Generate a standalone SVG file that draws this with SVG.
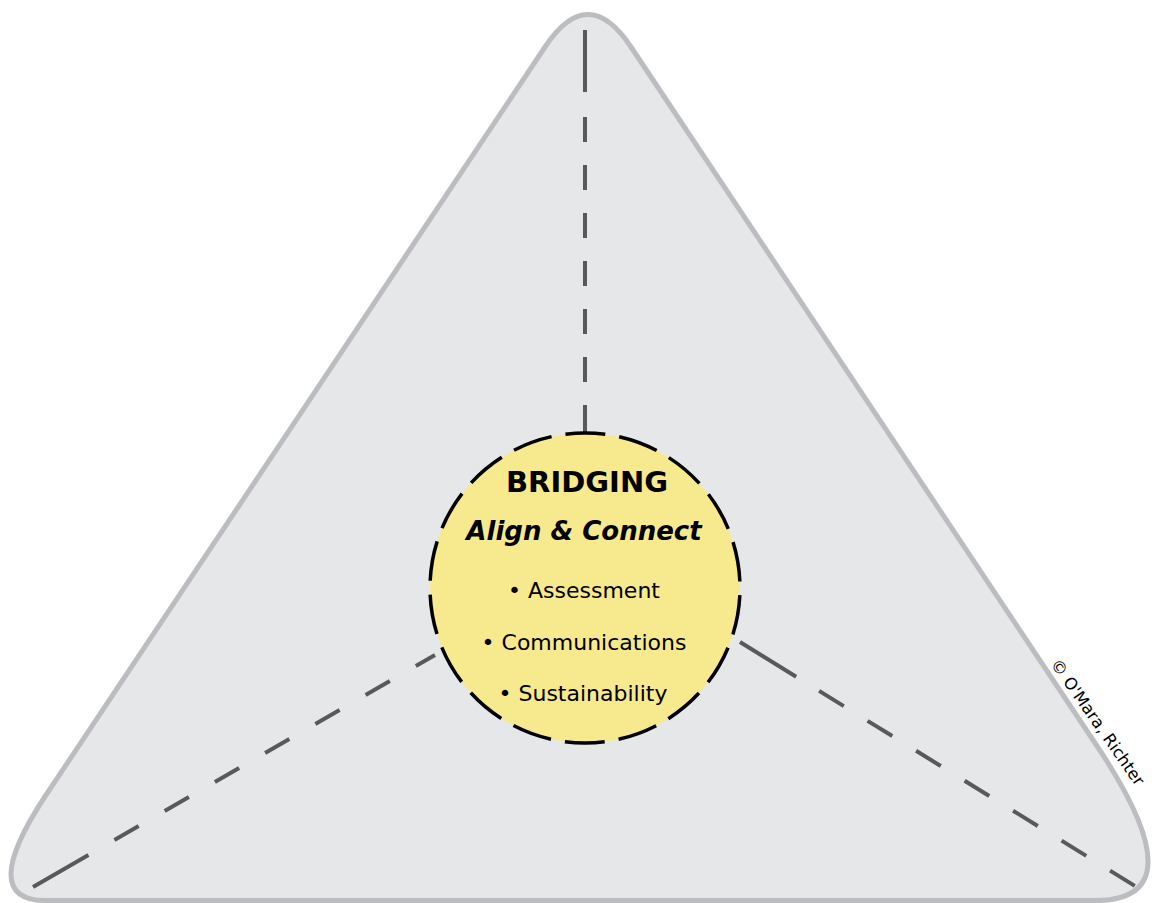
<svg xmlns="http://www.w3.org/2000/svg" width="1152" height="903" viewBox="0 0 1152 903">
<style>
.tri{fill:#e6e7e9;stroke:#bcbdc0;stroke-width:5}
.conn{fill:none;stroke:#58595b;stroke-width:4}
.hub{fill:#f7e98e;stroke:#000;stroke-width:3.5}
.t{font-family:"DejaVu Sans",Verdana,sans-serif;fill:#000;text-anchor:middle}
.title{font-weight:bold;font-size:29px}
.sub{font-weight:bold;font-style:italic;font-size:26px}
.item{font-size:22px}
.copy{font-family:"DejaVu Sans",Verdana,sans-serif;font-size:16.5px;fill:#000}
</style>
<rect width="1152" height="903" fill="#ffffff"/>
<g id="triangle">
<path class="tri" d="M545 47 Q588 -18 631 47 L1099 749 Q1199 900.5 1095 900.5 L46 900.5 Q-24 900.5 46 795 Z"/>
</g>
<g id="connectors">
<line class="conn" x1="585" y1="30" x2="585" y2="432" stroke-dasharray="62 25 25 23 25 23 25 23 25 23 25 23 25 23 27 100"/>
<line class="conn" x1="33" y1="887" x2="435" y2="655" stroke-dasharray="64 30 28 30 28 30 28 30 28 30 28 30 28 30 28 30"/>
<line class="conn" x1="740" y1="642" x2="1135" y2="886" stroke-dasharray="66 27 29 28 29 28 29 28 29 28 29 28 29 28 29 28"/>
</g>
<g id="bridging">
<circle class="hub" cx="585" cy="588" r="155" stroke-dasharray="40 14.1" stroke-dashoffset="-7.2"/>
<text class="t title" x="587" y="492">BRIDGING</text>
<text class="t sub" x="584" y="540">Align &amp; Connect</text>
<text class="t item" x="584" y="598">• Assessment</text>
<text class="t item" x="584" y="650">• Communications</text>
<text class="t item" x="583" y="701">• Sustainability</text>
</g>
<g id="copyright">
<text class="copy" transform="translate(1050 664) rotate(55)">© O'Mara, Richter</text>
</g>
</svg>
